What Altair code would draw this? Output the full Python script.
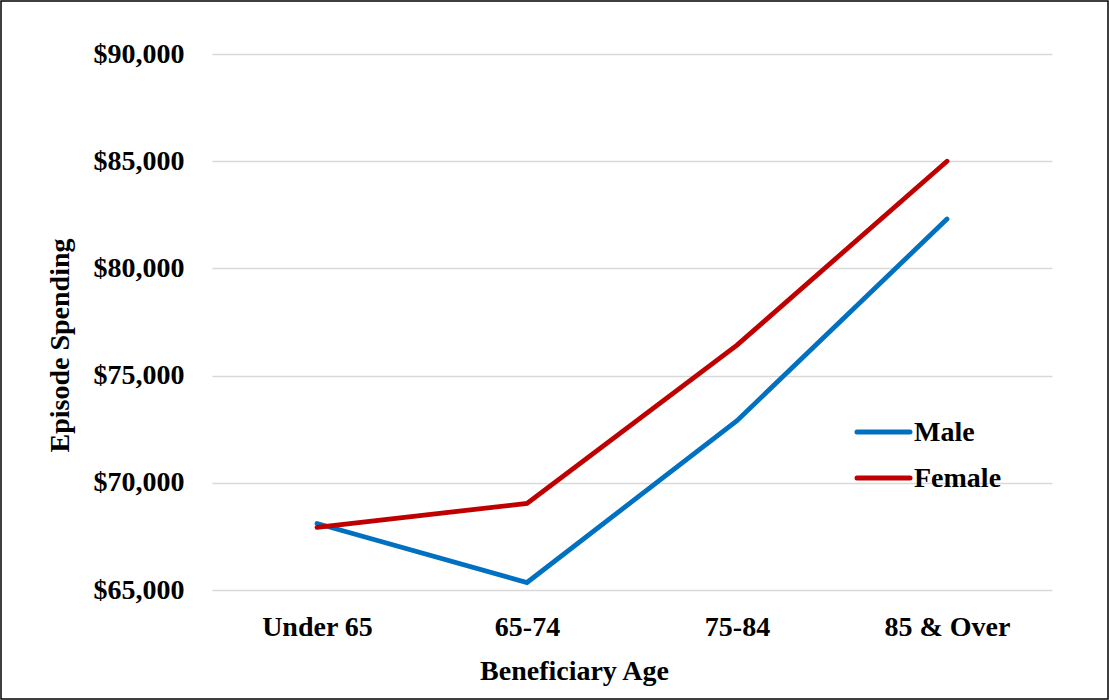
import altair as alt
import pandas as pd

# Episode spending by beneficiary age group and sex
age_groups = ["Under 65", "65-74", "75-84", "85 & Over"]
male_spending = [68100, 65350, 72900, 82300]
female_spending = [67920, 69040, 76420, 85000]
series_names = ["Male", "Female"]
series_colors = ["#0070C0", "#C00000"]

y_ticks = [65000, 70000, 75000, 80000, 85000, 90000]

rows = []
for name, values in zip(series_names, [male_spending, female_spending]):
    for age, v in zip(age_groups, values):
        rows.append({"age": age, "series": name, "spending": v})
df = pd.DataFrame(rows)

FONT = "Liberation Serif"
FS = 28

color_scale = alt.Scale(domain=series_names, range=series_colors)

lines = alt.Chart(df).mark_line(strokeWidth=4.8, strokeCap="round").encode(
    x=alt.X(
        "age:N",
        sort=age_groups,
        scale=alt.Scale(type="point", padding=0.5),
        axis=alt.Axis(
            title="Beneficiary Age",
            labelAngle=0,
            ticks=False,
            domain=False,
            grid=False,
            labelPadding=23,
            titlePadding=16,
            titleX=362,
        ),
    ),
    y=alt.Y(
        "spending:Q",
        scale=alt.Scale(domain=[65000, 90000], nice=False, zero=False),
        axis=alt.Axis(
            title="Episode Spending",
            values=y_ticks,
            format="$,.0f",
            ticks=False,
            domain=False,
            gridColor="#D9D9D9",
            gridWidth=1.3,
            labelPadding=28,
            titlePadding=19,
            titleY=291,
        ),
    ),
    color=alt.Color("series:N", scale=color_scale, legend=None),
)

# Legend drawn inside the plot area: a short line sample and a label per series
legend_rows_y = [378, 424]
legend_layers = []
for name, row_y in zip(series_names, legend_rows_y):
    entry = pd.DataFrame({"series": [name]})
    swatch = alt.Chart(entry).mark_rule(strokeWidth=5, strokeCap="round").encode(
        x=alt.value(645),
        x2=alt.value(698),
        y=alt.value(row_y),
        color=alt.Color("series:N", scale=color_scale, legend=None),
    )
    label = alt.Chart(entry).mark_text(
        align="left", baseline="middle", font=FONT, fontSize=FS,
        fontWeight="bold", color="black",
    ).encode(
        x=alt.value(702),
        y=alt.value(row_y + 1),
        text="series:N",
    )
    legend_layers += [swatch, label]

# Outer frame around the whole figure
frame = alt.Chart(pd.DataFrame({"k": [0]})).mark_rect(
    fill=None, stroke="black", strokeWidth=1.5
).encode(
    x=alt.value(-211),
    x2=alt.value(1108 - 212),
    y=alt.value(-53),
    y2=alt.value(699 - 54),
)

chart = (
    alt.layer(lines, *legend_layers, frame)
    .properties(
        width=840,
        height=536,
        autosize=alt.AutoSizeParams(type="none"),
        padding={"left": 212, "top": 54, "right": 57, "bottom": 110},
        background="white",
    )
    .configure_view(stroke=None)
    .configure_axis(
        labelFont=FONT,
        labelFontSize=FS,
        labelFontWeight="bold",
        labelColor="black",
        titleFont=FONT,
        titleFontSize=FS,
        titleFontWeight="bold",
        titleColor="black",
    )
)

chart.save("out.html", embed_options={"renderer": "svg", "actions": False})
